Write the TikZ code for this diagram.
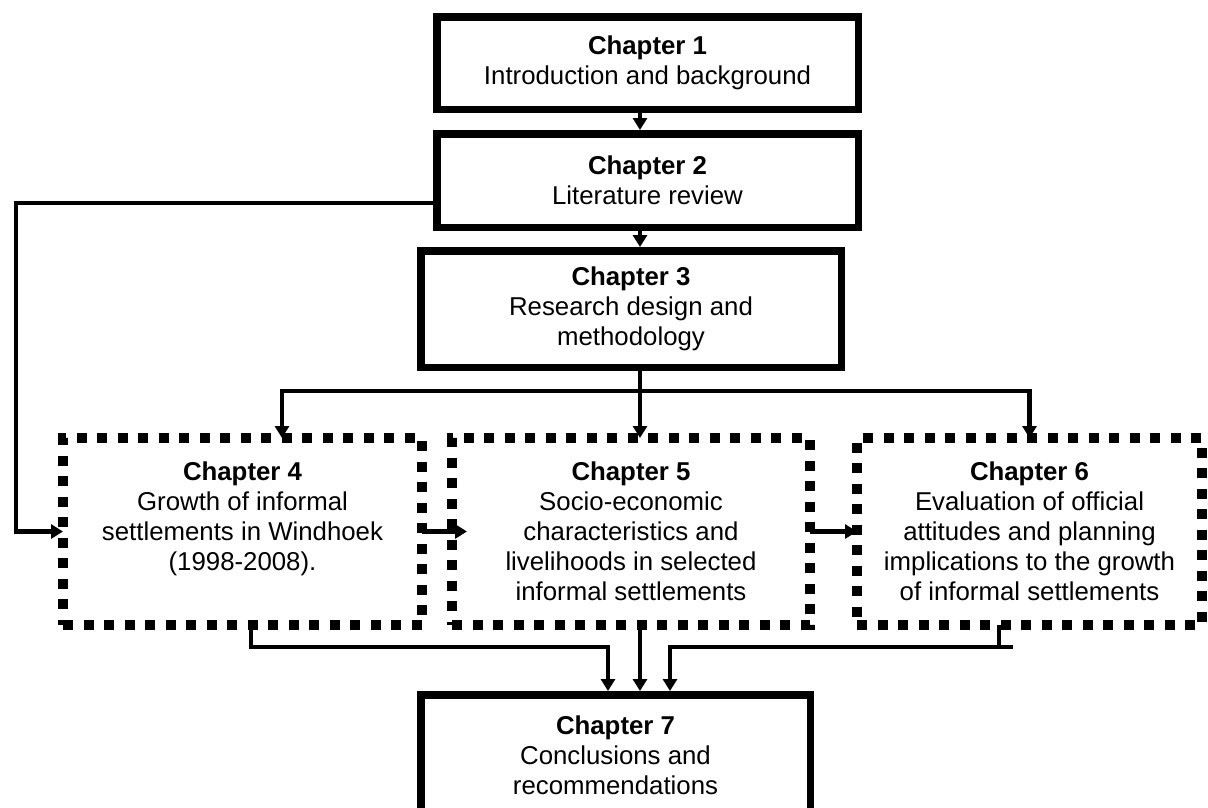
\documentclass[tikz,border=0pt]{standalone}
\usepackage{fontspec}
\setmainfont{Liberation Sans}
\usetikzlibrary{arrows.meta,positioning}
\newcommand{\chapfont}{\fontsize{25.8}{30}\selectfont}
\tikzset{
  chap box/.style={draw, line width=7.5pt, align=center, inner sep=0pt, font=\chapfont},
  chap dotted/.style={draw, line width=10pt, dash pattern=on 10pt off 10.5pt, outer sep=0pt, inner sep=0pt,
    align=center, minimum height=187pt, font=\chapfont},
  chap edge/.style={-{Triangle[width=14pt, length=12pt]}, line width=4.5pt},
  chap line/.style={line width=4.5pt},
}

\begin{document}
\begin{tikzpicture}[x=1pt, y=-1pt]
  \useasboundingbox (0,0) rectangle (1208,807);
  % solid chapters
  \node[chap box, minimum width=421.5pt, minimum height=92.5pt] (ch1) at (647.5,63) {\textbf{Chapter 1}\\Introduction and background};
  \node[chap box, minimum width=421.5pt, minimum height=93.5pt] (ch2) at (647.5,180.5) {\textbf{Chapter 2}\\Literature review};
  \node[chap box, minimum width=420.5pt, minimum height=116.5pt] (ch3) at (631,309) {\textbf{Chapter 3}\\Research design and\\methodology};
  % dotted chapters
  \node[chap dotted, minimum width=359pt] (ch4) at (242.5,531.5) {\textbf{Chapter 4}\\Growth of informal\\settlements in Windhoek\\(1998-2008).\\\mbox{}};
  \node[chap dotted, minimum width=358pt] (ch5) at (631,531.5) {\textbf{Chapter 5}\\Socio-economic\\characteristics and\\livelihoods in selected\\informal settlements};
  \node[chap dotted, minimum width=345pt] (ch6) at (1029.5,531.5) {\textbf{Chapter 6}\\Evaluation of official\\attitudes and planning\\implications to the growth\\of informal settlements};
  \node[chap box, minimum width=389.5pt, minimum height=121.5pt] (ch7) at (615.5,755.5) {\textbf{Chapter 7}\\Conclusions and\\recommendations};

  \coordinate (spine) at (640,0);
  \coordinate (fork) at (640,391);
  \coordinate (lft) at (16,203);
  \coordinate (in7l) at (608,647);
  \coordinate (in7r) at (670,647);
  \coordinate (tail6) at (1013,647);

  \draw[chap edge] (ch1.south -| spine) -- (ch2.north -| spine);
  \draw[chap edge] (ch2.south -| spine) -- (ch3.north -| spine);
  \draw[chap edge] (ch3.south -| spine) -- (ch5.north -| spine);
  \draw[chap edge] (fork) -| ([xshift=39.5pt]ch4.north);
  \draw[chap edge] (fork) -| (ch6.north);
  \draw[chap edge] (ch2.west |- lft) -- (lft) |- (ch4.west);
  \draw[chap edge] (ch4.east) -- ([xshift=15pt]ch5.west);
  \draw[chap edge] (ch5.east) -- (ch6.west);
  % into chapter 7
  \draw[chap edge] ([xshift=8.5pt]ch4.south) |- (in7l) -- (in7l |- ch7.north);
  \draw[chap edge] (ch5.south -| spine) -- (ch7.north -| spine);
  \draw[chap line] ([xshift=-30.5pt]ch6.south) |- (tail6);
  \draw[chap edge] (tail6) -- (in7r) -- (in7r |- ch7.north);
\end{tikzpicture}
\end{document}
